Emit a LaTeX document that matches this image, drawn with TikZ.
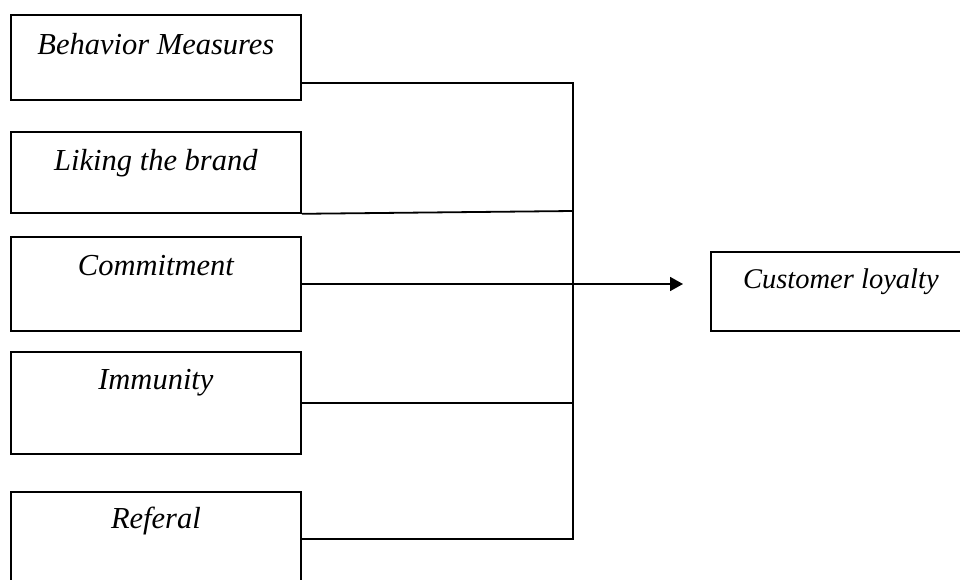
\documentclass[tikz,border=0pt]{standalone}
\usepackage{fontspec}
\setmainfont{Liberation Serif}
\usetikzlibrary{positioning,arrows.meta}

\tikzset{
    box/.style={draw, line width=1.8pt, inner sep=0pt, align=center},
    factor/.style={box, minimum width=290pt, font=\fontsize{30.5}{36}\selectfont\itshape},
    outcome/.style={box, minimum width=260pt, font=\fontsize{28.5}{34}\selectfont\itshape},
    link/.style={line width=1.8pt}
}

\begin{document}
\begin{tikzpicture}[x=1pt, y=-1pt]
    \useasboundingbox (0,0) rectangle (960,580);
    \clip (0,0) rectangle (960,580);

    % Dimensions of loyalty
    \node[factor, anchor=north west, text height=40pt, text depth=45pt] (behavior) at (10,14) {Behavior Measures};
    \node[factor, anchor=north west, text height=39pt, text depth=42pt] (liking) at (10,131) {Liking the brand};
    \node[factor, anchor=north west, text height=39pt, text depth=55pt] (commit) at (10,236) {Commitment};
    \node[factor, anchor=north west, text height=38pt, text depth=64pt] (immunity) at (10,351) {Immunity};
    \node[factor, anchor=north west, text height=37pt, text depth=83pt] (referal) at (10,491) {Referal};

    % Outcome
    \node[outcome, anchor=north west, text height=37pt, text depth=42pt] (loyalty) at (710,251) {Customer loyalty};

    % Collecting line
    \coordinate (j1) at (573,83);
    \coordinate (j2) at (573,211);
    \coordinate (j4) at (573,403);
    \coordinate (j5) at (573,539);
    \coordinate (tip) at (683,284);

    \draw[link] (behavior.east |- j1) -- (j1) -- (j5) -- (referal.east |- j5);
    \draw[link] (liking.south east) -- (j2);
    \draw[link] (immunity.east |- j4) -- (j4);
    \draw[link, -{Triangle[length=13pt, width=14pt]}] (commit.east |- tip) -- (tip);
\end{tikzpicture}
\end{document}
